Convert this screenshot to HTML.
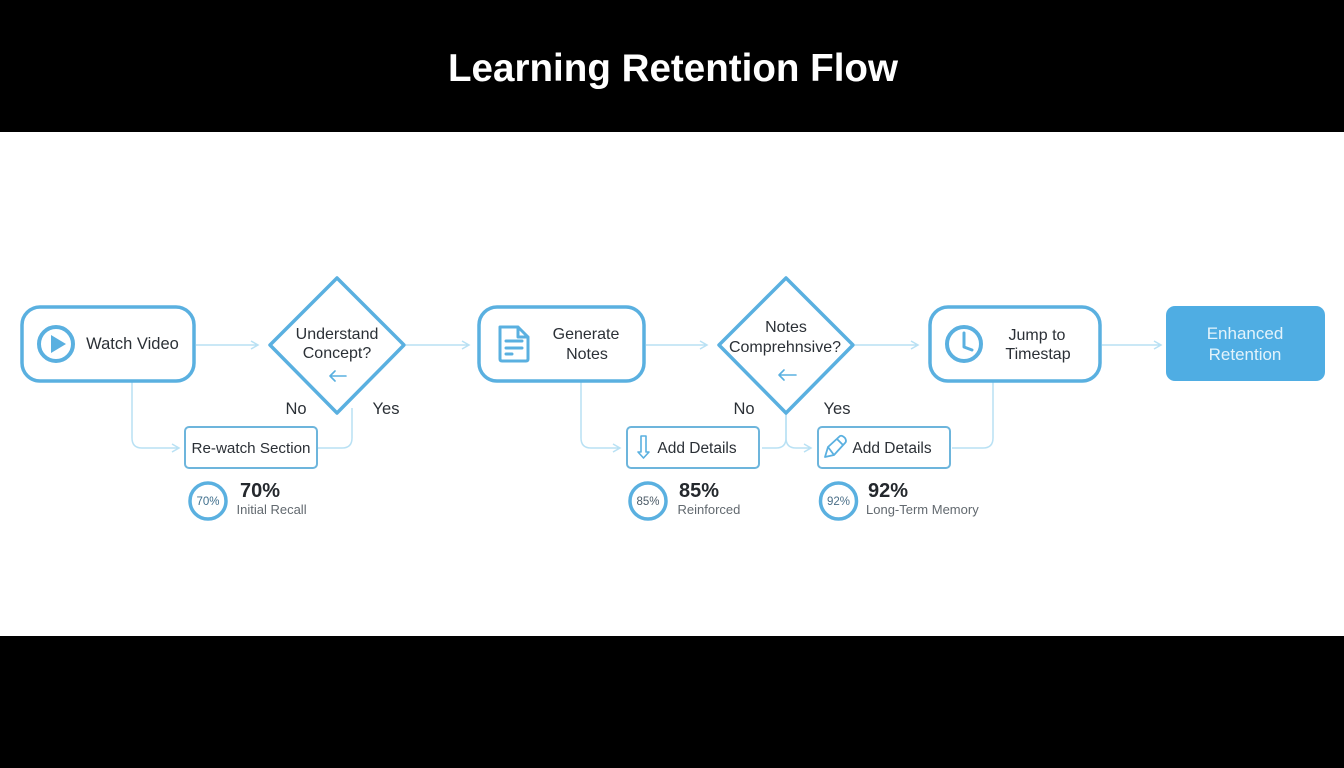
<!DOCTYPE html>
<html><head><meta charset="utf-8"><style>
html,body{margin:0;padding:0;background:#000;width:1344px;height:768px;overflow:hidden}
svg{display:block}
text{font-family:"Liberation Sans","DejaVu Sans",sans-serif;fill:#2b3036;text-anchor:middle}
.c{fill:none;stroke:#b9e1f4;stroke-width:1.5}
.n{fill:#fff;stroke:#5ab0e0;stroke-width:3.5}
.s{fill:#fff;stroke:#6db5dc;stroke-width:2}
.r{fill:none;stroke:#5ab0e0;stroke-width:4}
.i{fill:none;stroke:#5ab0e0;stroke-width:2.5;stroke-linecap:round;stroke-linejoin:round}
.l{font-size:16px}
.p{font-size:20px;font-weight:bold;text-anchor:start;fill:#24282d}
.d{font-size:13px;text-anchor:start;fill:#62696f}
.m{font-size:11.5px;fill:#3f6f8d}
</style></head><body>
<svg width="1344" height="768" viewBox="0 0 1344 768" xmlns="http://www.w3.org/2000/svg">
<rect width="1344" height="768" fill="#000"/>
<rect y="132" width="1344" height="504" fill="#fff"/>
<text x="673" y="81" style="font-size:39px;font-weight:bold;fill:#fff" textLength="450" lengthAdjust="spacingAndGlyphs">Learning Retention Flow</text>

<!-- connectors -->
<path class="c" d="M196 345H258M251 341l7 4-7 4"/>
<path class="c" d="M406 345H469M462 341l7 4-7 4"/>
<path class="c" d="M646 345H707M700 341l7 4-7 4"/>
<path class="c" d="M855 345H918M911 341l7 4-7 4"/>
<path class="c" d="M1102 345H1161M1154 341l7 4-7 4"/>
<path class="c" d="M132 382V438q0 10 10 10H179M172 444l7 4-7 4"/>
<path class="c" d="M318 448H342q10 0 10-10V408"/>
<path class="c" d="M581 382V438q0 10 10 10H620M613 444l7 4-7 4"/>
<path class="c" d="M762 448H776q10 0 10-10V414"/>
<path class="c" d="M786 414V438q0 10 10 10H811M804 444l7 4-7 4"/>
<path class="c" d="M952 448H983q10 0 10-10V382"/>

<!-- main nodes -->
<rect class="n" x="22" y="307" width="172" height="74" rx="18"/>
<rect class="n" x="479" y="307" width="165" height="74" rx="18"/>
<rect class="n" x="930" y="307" width="170" height="74" rx="18"/>
<rect x="1166" y="306" width="159" height="75" rx="9" fill="#4fade3"/>

<!-- diamonds -->
<path class="n" stroke-linejoin="round" d="M337 278L404 345L337 413L270 345Z"/>
<path class="n" stroke-linejoin="round" d="M786 278L853 345L786 413L719 345Z"/>

<!-- small nodes -->
<rect class="s" x="185" y="427" width="132" height="41" rx="4"/>
<rect class="s" x="627" y="427" width="132" height="41" rx="4"/>
<rect class="s" x="818" y="427" width="132" height="41" rx="4"/>

<!-- icons -->
<circle cx="56" cy="344" r="17" class="r"/>
<path d="M51 335L66 344L51 353Z" fill="#5ab0e0"/>
<path class="i" style="stroke-width:3" d="M500 327H518L528 337V359Q528 361 526 361H502Q500 361 500 359ZM518 327V337H528M506 341H522M506 348H522M506 354H512"/>
<circle cx="964" cy="344" r="17" class="r"/>
<path class="i" style="stroke-width:3" d="M964 333V347L972 350"/>
<path class="i" style="stroke-width:1.6" d="M641 436H646V452H649L643.500 458L638 452H641Z"/>
<path class="i" style="stroke-width:1.8" d="M825 457L828 447L840 436Q842 435 845 438Q847 441 845 443L834 455ZM837 439L843 445M828 447L834 455"/>
<path class="i" style="stroke-width:1.6" d="M346 376H330M335 371L330 376L335 381"/>
<path class="i" style="stroke-width:1.6" d="M796 375H779M784 370L779 375L784 380"/>

<!-- labels -->
<text class="l" x="132.500" y="349" style="font-size:16.500px">Watch Video</text>
<text class="l" x="337" y="339">Understand</text>
<text class="l" x="337" y="358">Concept?</text>
<text class="l" x="586" y="339">Generate</text>
<text class="l" x="587" y="359">Notes</text>
<text class="l" x="786" y="332">Notes</text>
<text class="l" x="785" y="352">Comprehnsive?</text>
<text class="l" x="1037" y="340">Jump to</text>
<text class="l" x="1038" y="359">Timestap</text>
<text class="l" x="1245" y="339" style="font-size:17px;fill:#e3f3fb">Enhanced</text>
<text class="l" x="1245" y="360" style="font-size:17px;fill:#e3f3fb">Retention</text>
<text class="l" x="296" y="414" style="font-size:16.500px">No</text>
<text class="l" x="386" y="414" style="font-size:16.500px">Yes</text>
<text class="l" x="744" y="414" style="font-size:16.500px">No</text>
<text class="l" x="837" y="414" style="font-size:16.500px">Yes</text>
<text class="l" x="251" y="453" style="font-size:15.200px">Re-watch Section</text>
<text class="l" x="697" y="453" style="font-size:15.500px">Add Details</text>
<text class="l" x="892" y="453" style="font-size:15.500px">Add Details</text>

<!-- metrics -->
<circle class="r" style="stroke-width:3.500" cx="208" cy="501" r="18"/>
<circle class="r" style="stroke-width:3.500" cx="648" cy="501" r="18"/>
<circle class="r" style="stroke-width:3.500" cx="838.500" cy="501" r="18"/>
<text class="m" x="208" y="505">70%</text>
<text class="m" x="648" y="505" style="fill:#4b5a66">85%</text>
<text class="m" x="838.500" y="505" style="fill:#4b6f88">92%</text>
<text class="p" x="240" y="497">70%</text>
<text class="p" x="679" y="497">85%</text>
<text class="p" x="868" y="497">92%</text>
<text class="d" x="236.500" y="514">Initial Recall</text>
<text class="d" x="677.500" y="514">Reinforced</text>
<text class="d" x="866" y="514">Long-Term Memory</text>
</svg>
</body></html>
